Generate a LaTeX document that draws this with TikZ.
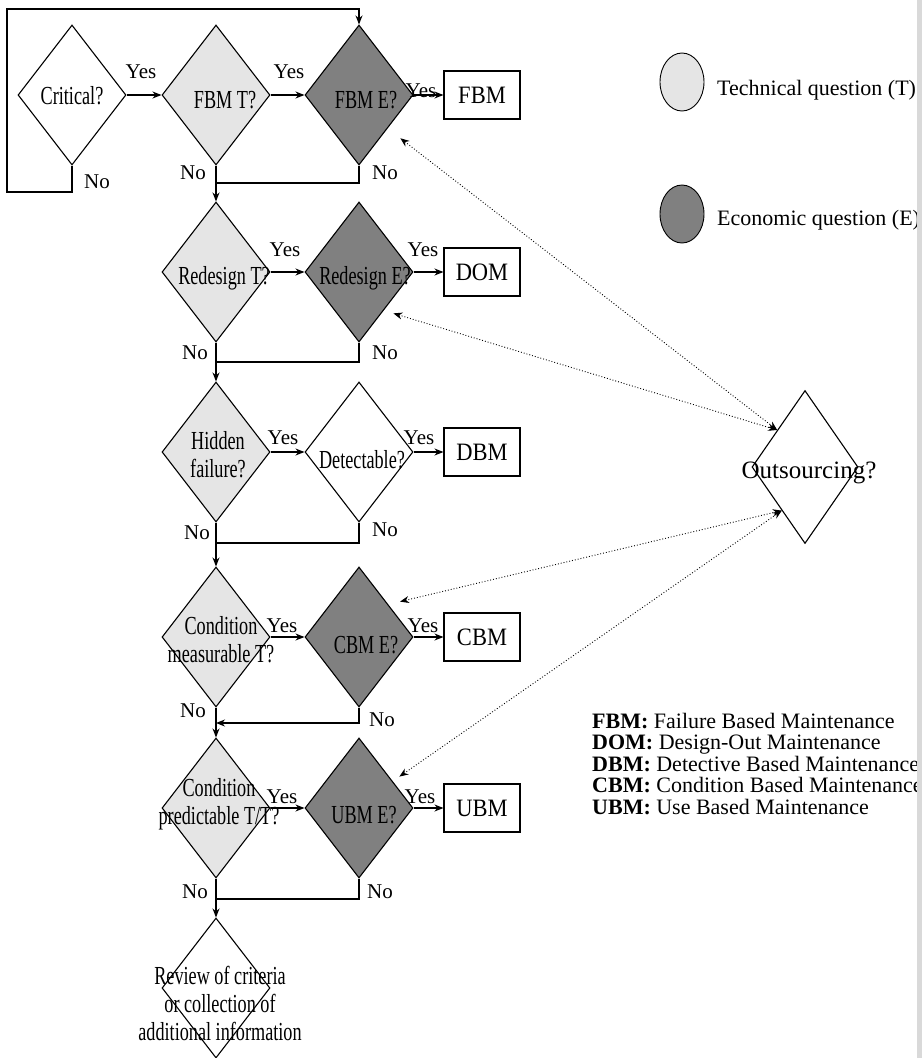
\documentclass[tikz,border=0pt]{standalone}
\usepackage{fontspec}
\setmainfont{Liberation Serif}
\newfontfamily\condfont[FakeStretch=0.70]{Liberation Serif}
\newfontfamily\boxfont[FakeStretch=0.9]{Liberation Serif}
\usetikzlibrary{shapes.geometric,arrows.meta,calc}
\newcommand\mytightlines{\lineskiplimit=-100pt\relax\lineskip=0pt\relax}
\definecolor{techfill}{gray}{0.9}
\definecolor{econfill}{gray}{0.5}
\definecolor{stripfill}{gray}{0.85}
\tikzset{
  dia/.style={diamond, draw, line width=1.1pt, minimum width=108pt, minimum height=140pt, inner sep=0pt},
  tq/.style={dia, fill=techfill},
  eq/.style={dia, fill=econfill},
  dtext/.style={font=\condfont\fontsize{26}{28}\selectfont, align=center, inner sep=0pt},
  outbox/.style={draw, line width=1.1pt, minimum width=76pt, minimum height=48pt, inner sep=0pt, font=\boxfont\fontsize{25}{28}\selectfont},
  yn/.style={font=\fontsize{21}{24}\selectfont, inner sep=0pt},
  legtxt/.style={font=\fontsize{22}{24}\selectfont, inner sep=0pt},
  deflist/.style={font=\fontsize{22}{21.5}\selectfont\mytightlines, align=left, inner sep=0pt},
  flow/.style={line width=1.1pt},
  arr/.style={flow, -{Stealth[length=9pt,width=7pt]}},
  dots/.style={dotted, line width=0.9pt, {Stealth[length=9pt,width=7pt]}-{Stealth[length=9pt,width=7pt]}},
}
\begin{document}
\begin{tikzpicture}[x=1pt,y=-1pt]
\useasboundingbox (0,0) rectangle (922,1058);
\fill[white] (0,0) rectangle (922,1058);

% row 1
\node[dia] (crit) at (72,95) {};
\node[dtext] (critt) at (72,96) {Critical?};
\node[tq] (fbmt) at (216,95) {};
\node[dtext] (fbmtt) at (225,100) {FBM T?};
\node[eq] (fbme) at (359,95) {};
\node[dtext] (fbmet) at (366,100) {FBM E?};
\node[outbox] (fbm) at (482,95) {FBM};

% row 2
\node[tq] (redt) at (216,272) {};
\node[dtext] (redtt) at (224,278) {Redesign T?};
\node[eq] (rede) at (359,272) {};
\node[dtext] (redet) at (365,278) {Redesign E?};
\node[outbox] (dom) at (482,272) {DOM};

% row 3
\node[tq] (hid) at (216,452) {};
\node[dtext] (hidt) at (218,455) {Hidden\\failure?};
\node[dia] (det) at (359,452) {};
\node[dtext] (dett) at (362,460) {Detectable?};
\node[outbox] (dbm) at (482,452) {DBM};

% row 4
\node[tq] (cmt) at (216,637) {};
\node[dtext] (cmtt) at (221,640) {Condition\\measurable T?};
\node[eq] (cbme) at (359,637) {};
\node[dtext] (cbmet) at (366,645) {CBM E?};
\node[outbox] (cbm) at (482,637) {CBM};

% row 5
\node[tq] (cpt) at (216,808) {};
\node[dtext] (cptt) at (219,804) {Condition\\predictable T/T?};
\node[eq] (ubme) at (359,808) {};
\node[dtext] (ubmet) at (364,815) {UBM E?};
\node[outbox] (ubm) at (482,808) {UBM};

% review
\node[dia] (rev) at (216,988) {};
\node[dtext] (revt) at (220,1003) {Review of criteria\\or collection of\\additional information};

% outsourcing
\node[diamond, draw, line width=1.1pt, minimum width=106pt, minimum height=153pt, inner sep=0pt] (out) at (805,467) {};
\node[font=\fontsize{25}{28}\selectfont, inner sep=0pt] (outt) at (809,473) {Outsourcing?};

% yes labels
\node[yn] (y11) at (141,72) {Yes};
\node[yn] (y12) at (289,72) {Yes};
\node[yn] (y13) at (421,91) {Yes};
\node[yn] (y21) at (285,250) {Yes};
\node[yn] (y22) at (423,250) {Yes};
\node[yn] (y31) at (283,438) {Yes};
\node[yn] (y32) at (419,438) {Yes};
\node[yn] (y41) at (282,626) {Yes};
\node[yn] (y42) at (423,626) {Yes};
\node[yn] (y51) at (282,797) {Yes};
\node[yn] (y52) at (420,797) {Yes};
% no labels
\node[yn] (n10) at (97,182) {No};
\node[yn] (n11) at (193,173) {No};
\node[yn] (n12) at (385,173) {No};
\node[yn] (n21) at (195,353) {No};
\node[yn] (n22) at (385,353) {No};
\node[yn] (n31) at (197,533) {No};
\node[yn] (n32) at (385,530) {No};
\node[yn] (n41) at (193,711) {No};
\node[yn] (n42) at (382,720) {No};
\node[yn] (n51) at (195,892) {No};
\node[yn] (n52) at (380,892) {No};

% flow connectors
\coordinate (lp1) at (7,192);
\coordinate (lp2) at (7,9);
\draw[arr] (crit.east) -- (fbmt.west);
\draw[arr] (fbmt.east) -- (fbme.west);
\draw[arr] (fbme.east) -- (fbm.west);
\draw[arr] (crit.south) |- (lp1) -- (lp2) -| (fbme.north);
\draw[arr] (fbmt.south) -- (redt.north);
\coordinate (j1) at (216,183);
\draw[flow] (fbme.south) |- (j1);

\draw[arr] (redt.east) -- (rede.west);
\draw[arr] (rede.east) -- (dom.west);
\draw[arr] (redt.south) -- (hid.north);
\coordinate (j2) at (216,362);
\draw[flow] (rede.south) |- (j2);

\draw[arr] (hid.east) -- (det.west);
\draw[arr] (det.east) -- (dbm.west);
\draw[arr] (hid.south) -- (cmt.north);
\coordinate (j3) at (216,543);
\draw[flow] (det.south) |- (j3);

\draw[arr] (cmt.east) -- (cbme.west);
\draw[arr] (cbme.east) -- (cbm.west);
\draw[arr] (cmt.south) -- (cpt.north);
\coordinate (j4) at (216,723);
\draw[arr] (cbme.south) |- (j4);

\draw[arr] (cpt.east) -- (ubme.west);
\draw[arr] (ubme.east) -- (ubm.west);
\draw[arr] (cpt.south) -- (rev.north);
\coordinate (j5) at (216,899);
\draw[flow] (ubme.south) |- (j5);

% dotted links to outsourcing
\coordinate (q1) at ($(out.north)!0.52!(out.west)$);
\coordinate (q2) at ($(out.west)!0.566!(out.south)$);
\draw[dots, shorten <=16pt] ($(fbme.east)!0.474!(fbme.south)$) -- (q1);
\draw[dots, shorten <=10pt] ($(rede.east)!0.545!(rede.south)$) -- (q1);
\draw[dots, shorten <=12pt] ($(cbme.north)!0.538!(cbme.east)$) -- (q2);
\draw[dots, shorten <=8pt] ($(ubme.north)!0.62!(ubme.east)$) -- (q2);

% legend
\node[ellipse, draw, line width=0.9pt, fill=techfill, minimum width=44pt, minimum height=58pt, inner sep=0pt] (legt) at (682,82) {};
\node[legtxt, anchor=base west] (legtt) at (717,95) {Technical question (T)};
\node[ellipse, draw, line width=0.9pt, fill=econfill, minimum width=44pt, minimum height=58pt, inner sep=0pt] (lege) at (682,214) {};
\node[legtxt, anchor=base west] (leget) at (717,225) {Economic question (E)};

\node[deflist, anchor=north west] (defs) at (592,713) {\textbf{FBM:} Failure Based Maintenance\\
\textbf{DOM:} Design-Out Maintenance\\
\textbf{DBM:} Detective Based Maintenance\\
\textbf{CBM:} Condition Based Maintenance\\
\textbf{UBM:} Use Based Maintenance};

% scanned page edge
\fill[stripfill] (917,0) rectangle (922,1058);
\end{tikzpicture}
\end{document}
